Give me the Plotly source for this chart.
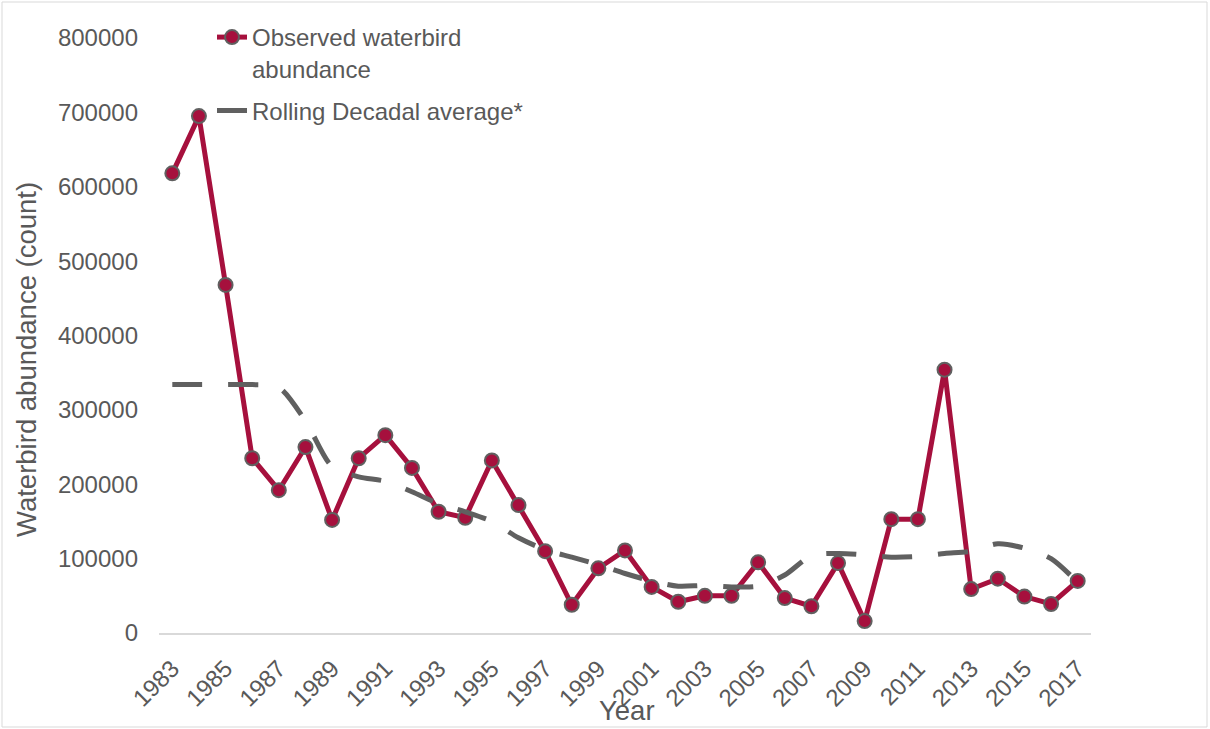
import plotly.graph_objects as go

years = list(range(1983, 2018))
observed = [618000, 695000, 468000, 235000, 192000, 250000, 152000, 235000, 266000, 222000,
            163000, 155000, 232000, 172000, 110000, 38000, 87000, 111000, 62000, 42000,
            50000, 50000, 95000, 47000, 36000, 94000, 16000, 153000, 153000, 354000,
            59000, 73000, 49000, 39000, 70000]
rolling = [334000, 334000, 334000, 334000, 330000, 285000, 224000, 210000, 204000, 190000,
           174000, 163000, 150000, 128000, 112000, 102000, 92000, 80000, 70000, 63000,
           64000, 62000, 63000, 78000, 104000, 107000, 105000, 102000, 103000, 107000,
           110000, 120000, 114000, 100000, 68000]
tick_years = list(range(1983, 2018, 2))

RED = "#A6103D"
GREY = "#606060"
TXT = "#595959"
FONT = "Liberation Sans, Arial, sans-serif"

fig = go.Figure()
fig.add_trace(go.Scatter(
    x=years, y=observed, mode="lines+markers", name="Observed waterbird<br>abundance",
    legendgroup="a",
    line=dict(color=RED, width=5),
    marker=dict(size=14, color=RED, line=dict(color=GREY, width=2)),
))
fig.add_trace(go.Scatter(
    x=years, y=rolling, mode="lines", name="Rolling Decadal average*", legendgroup="b",
    line=dict(color=GREY, width=5, dash="30px,26px", shape="spline", smoothing=0.8),
))

L, R, T, B = 159, 119, 38, 96
W, H = 1210 - L - R, 729 - T - B

def px(x):
    return (x - L) / W

def py(y):
    return (729 - B - y) / H

fig.update_layout(
    width=1210, height=729,
    margin=dict(l=L, r=R, t=T, b=B),
    paper_bgcolor="white", plot_bgcolor="white",
    font=dict(family=FONT, size=24, color=TXT),
    showlegend=True,
    legend=dict(x=px(212), y=py(15), xanchor="left", yanchor="top",
                bgcolor="rgba(0,0,0,0)", traceorder="grouped", valign="top",
                font=dict(size=24, color=TXT), tracegroupgap=8),
    xaxis=dict(range=[1982.5, 2017.5], tickmode="array", tickvals=tick_years,
               ticktext=[str(y) for y in tick_years], tickangle=-45,
               showgrid=False, zeroline=False, showline=True, linecolor="#D9D9D9",
               linewidth=2, ticks="", ticklabelstandoff=10,
               tickfont=dict(size=24, color=TXT)),
    yaxis=dict(range=[0, 800000], tickmode="array",
               tickvals=[0, 100000, 200000, 300000, 400000, 500000, 600000, 700000, 800000],
               ticktext=["0", "100000", "200000", "300000", "400000", "500000", "600000", "700000", "800000"],
               showgrid=False, zeroline=False, showline=False, ticks="",
               ticklabelstandoff=20, tickfont=dict(size=24, color=TXT)),
    annotations=[
        dict(text="Waterbird abundance (count)", textangle=-90, xref="paper", yref="paper",
             x=px(26), y=py(360), xanchor="center", yanchor="middle", showarrow=False,
             font=dict(size=27.5, color=TXT)),
        dict(text="Year", xref="paper", yref="paper", x=px(627), y=py(710),
             xanchor="center", yanchor="middle", showarrow=False,
             font=dict(size=27.5, color=TXT)),
    ],
    shapes=[dict(type="rect", xref="paper", yref="paper",
                 x0=px(2), x1=px(1207), y0=py(727), y1=py(2),
                 line=dict(color="#D9D9D9", width=1), layer="below")],
)

fig.write_html("out.html")
